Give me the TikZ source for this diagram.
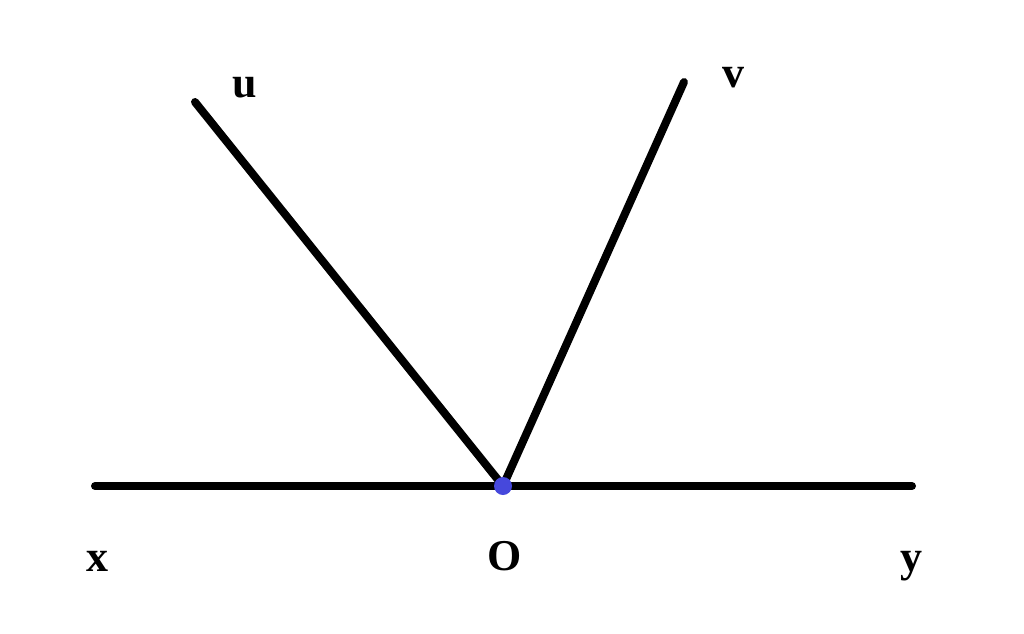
\documentclass[tikz,border=0pt]{standalone}
\usepackage{fontspec}
\setmainfont{Liberation Serif}
\tikzset{every picture/.style={line width=6pt}}
\tikzset{ray/.style={line cap=round},
  lbl/.style={anchor=base,inner sep=0.75pt,font=\fontsize{33}{38}\selectfont\bfseries}}

\begin{document}
\begin{tikzpicture}[x=0.75pt,y=0.75pt,yscale=-1,xscale=1]
\useasboundingbox (0,0) rectangle (1024,633);

% Points
\coordinate (O) at (503,486);
\coordinate (X) at (95,486);
\coordinate (Y) at (912,486);
\coordinate (U) at (195,102);
\coordinate (V) at (684,82);

%Straight Lines
\draw [ray]   (X) -- (Y) ;
%Straight Lines
\draw [ray]   (O) -- (U) ;
%Straight Lines
\draw [ray]   (O) -- (V) ;
%Shape: Circle
\fill [color={rgb,255:red,70;green,72;blue,220}] (O) circle (9) ;

% Text Node
\node [lbl] (lu) at (245,97) {u};
% Text Node
\node [lbl] (lv) at (733,87) {v};
% Text Node
\node [lbl] (lx) at (97,571) {x};
% Text Node
\node [lbl] (lo) at (505,570) {O};
% Text Node
\node [lbl] (ly) at (911,571) {y};

\end{tikzpicture}
\end{document}
